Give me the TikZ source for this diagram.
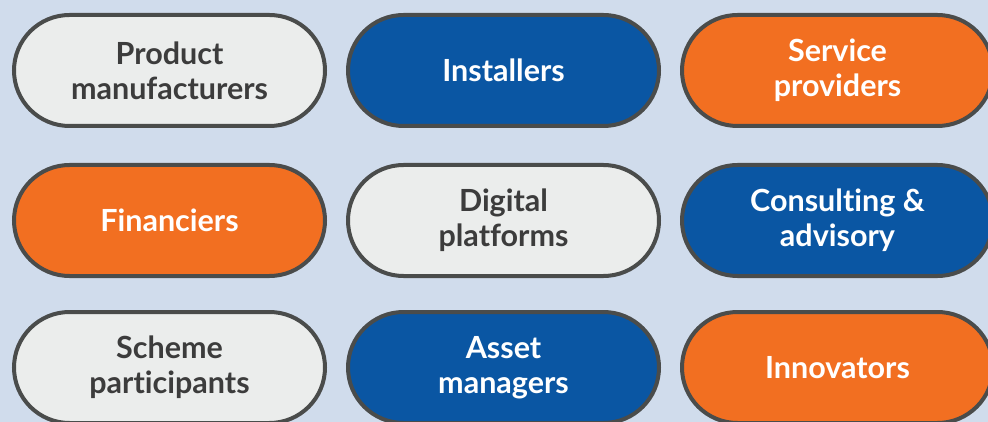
\documentclass[tikz,border=0pt]{standalone}
\usepackage{fontspec}
\setmainfont{Lato}[Ligatures={NoCommon}]
\usepackage{tikz}
\usetikzlibrary{positioning}
\definecolor{bgblue}{HTML}{D0DCEC}
\definecolor{pillgray}{HTML}{EBEDEC}
\definecolor{pillblue}{HTML}{0A56A3}
\definecolor{pillorange}{HTML}{F26F21}
\definecolor{rimgray}{HTML}{4A4C4B}
\definecolor{textgray}{HTML}{3C3C3C}

\begin{document}
\begin{tikzpicture}[x=1pt, y=-1pt,
  pill/.style={draw=rimgray, line width=4pt, rectangle, rounded corners=55.5pt,
    minimum width=311pt, minimum height=111pt, align=center,
    font=\fontsize{30.5}{35}\selectfont\bfseries},
  grey pill/.style={pill, fill=pillgray, text=textgray},
  blue pill/.style={pill, fill=pillblue, text=white},
  orange pill/.style={pill, fill=pillorange, text=white}]
\fill[bgblue] (0,0) rectangle (988,422);
\useasboundingbox (0,0) rectangle (988,422);
\begin{scope}
\clip (0,0) rectangle (988,422);
% row 1
\node[grey pill] (prod) at (169.5,70.5) {Product\\manufacturers};
\node[blue pill] (inst) at (503.5,70.5) {Installers};
\node[orange pill] (serv) at (837.5,70.5) {Service\\providers};
% row 2
\node[orange pill] (fin) at (169.5,220.5) {Financiers};
\node[grey pill] (digi) at (503.5,220.5) {Digital\\platforms};
\node[blue pill] (cons) at (837.5,220.5) {Consulting \&\\advisory};
% row 3
\node[grey pill] (scheme) at (169.5,367.5) {Scheme\\participants};
\node[blue pill] (asset) at (503.5,367.5) {Asset\\managers};
\node[orange pill] (innov) at (837.5,367.5) {Innovators};
\end{scope}
\end{tikzpicture}
\end{document}
